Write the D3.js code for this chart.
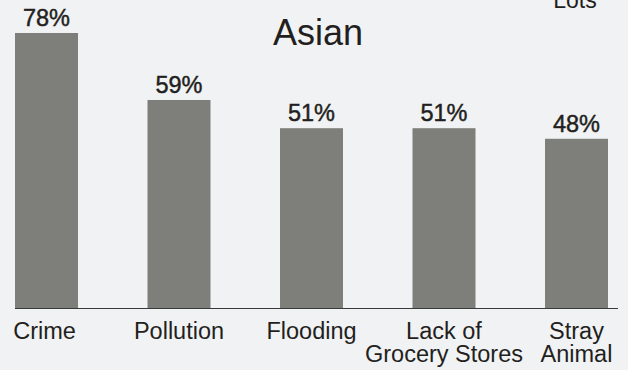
<!DOCTYPE html>
<html>
<head>
<meta charset="utf-8">
<script src="https://cdn.jsdelivr.net/npm/d3@7"></script>
<style>
  html, body { margin: 0; padding: 0; background: #f1f2f4; }
  svg { display: block; }
  text { font-family: "Liberation Sans", Arial, Helvetica, sans-serif; fill: #231f20; }
</style>
</head>
<body>
<svg id="chart" width="628" height="370"></svg>
<script>
// ---- data ----
const categories = ["Crime", "Pollution", "Flooding", "Lack of Grocery Stores", "Stray Animal"];
const categoryLines = [["Crime"], ["Pollution"], ["Flooding"], ["Lack of", "Grocery Stores"], ["Stray", "Animal"]];
const values = [78, 59, 51, 51, 48];
const valueLabels = ["78%", "59%", "51%", "51%", "48%"];
const title = "Asian";
const legendText = "Lots";

const W = 628, H = 370;
const svg = d3.select("#chart");

svg.append("rect").attr("width", W).attr("height", H).attr("fill", "#f1f2f4");

const x = d3.scaleBand().domain(categories).range([15, 608]).paddingInner(0.5245).paddingOuter(0);
const y = d3.scaleLinear().domain([0, 78]).range([308, 33]);

// baseline
svg.append("line")
  .attr("x1", 15).attr("x2", 618)
  .attr("y1", y(0) + 0.5).attr("y2", y(0) + 0.5)
  .attr("stroke", "#3a3a3a").attr("stroke-width", 1.2);

// bars
svg.selectAll("rect.bar").data(values).join("rect")
  .attr("class", "bar")
  .attr("x", (d, i) => x(categories[i]))
  .attr("width", x.bandwidth())
  .attr("y", d => y(d))
  .attr("height", d => y(0) - y(d))
  .attr("fill", "#7e7f7b");

// value labels
svg.selectAll("text.val").data(values).join("text")
  .attr("class", "val")
  .attr("x", (d, i) => x(categories[i]) + x.bandwidth() / 2)
  .attr("y", d => y(d) - 7)
  .attr("text-anchor", "middle")
  .attr("font-size", 23.5)
  .attr("stroke", "#231f20").attr("stroke-width", 0.45)
  .text((d, i) => valueLabels[i]);

// category labels
categoryLines.forEach((lines, i) => {
  const cx = x(categories[i]) + x.bandwidth() / 2 + (i === 0 ? -2 : 0);
  const t = svg.append("text")
    .attr("text-anchor", "middle")
    .attr("font-size", 23.5)
    .attr("y", 339);
  lines.forEach((ln, j) => {
    t.append("tspan").attr("x", cx).attr("dy", j === 0 ? 0 : 22.7).text(ln);
  });
});

// title
svg.append("text")
  .attr("x", 318).attr("y", 45)
  .attr("text-anchor", "middle")
  .attr("font-size", 36)
  .text(title);

// partially visible legend text
svg.append("text")
  .attr("x", 575).attr("y", 8)
  .attr("text-anchor", "middle")
  .attr("font-size", 23)
  .text(legendText);
</script>
</body>
</html>
